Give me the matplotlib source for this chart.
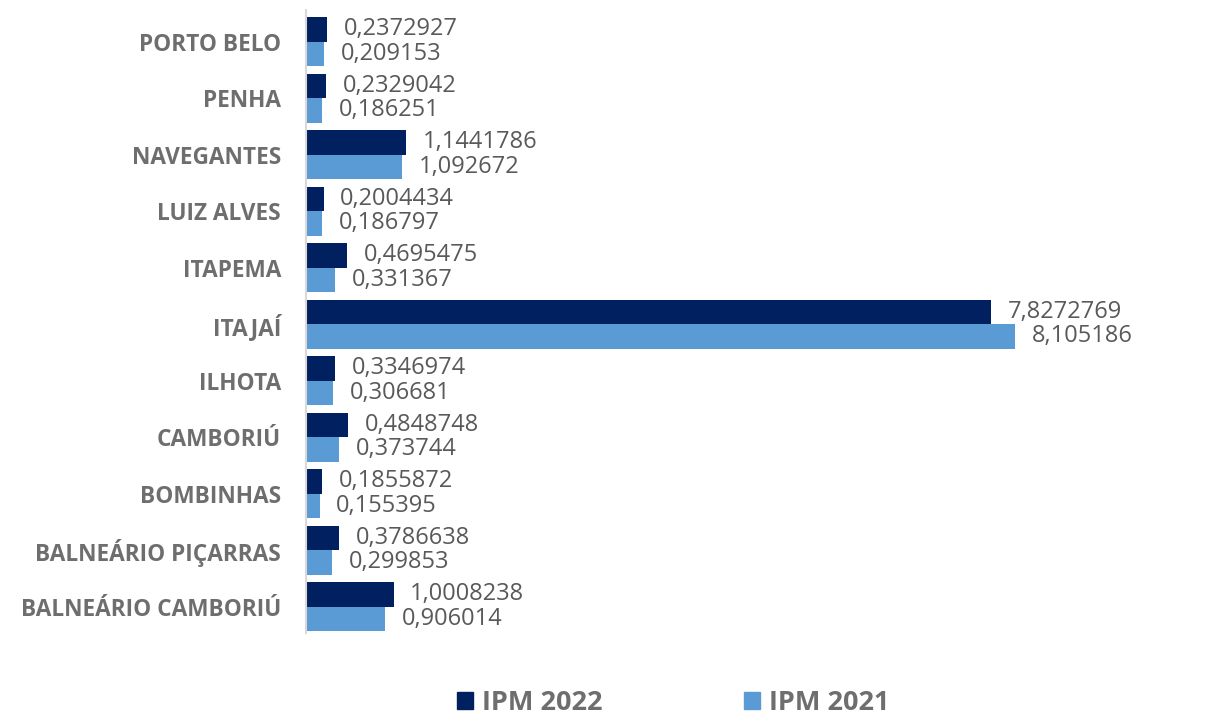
import numpy as np
import matplotlib
matplotlib.use("Agg")
import matplotlib.pyplot as plt
from matplotlib.patches import Patch

plt.rcParams['font.family'] = ['Open Sans', 'DejaVu Sans']

# IPM values per municipality (top to bottom as in the chart)
municipios = ['PORTO BELO', 'PENHA', 'NAVEGANTES', 'LUIZ ALVES', 'ITAPEMA', 'ITAJAÍ',
              'ILHOTA', 'CAMBORIÚ', 'BOMBINHAS', 'BALNEÁRIO PIÇARRAS', 'BALNEÁRIO CAMBORIÚ']
ipm_2022 = [0.2372927, 0.2329042, 1.1441786, 0.2004434, 0.4695475, 7.8272769,
            0.3346974, 0.4848748, 0.1855872, 0.3786638, 1.0008238]
ipm_2021 = [0.209153, 0.186251, 1.092672, 0.186797, 0.331367, 8.105186,
            0.306681, 0.373744, 0.155395, 0.299853, 0.906014]
series_names = ['IPM 2022', 'IPM 2021']

dark = '#002060'
light = '#5B9BD5'
val_color = '#595959'
lab_color = '#6e6e6e'

fig = plt.figure(figsize=(12.13, 7.19), dpi=100)
ax = fig.add_axes([0.2523, 0.1202, 0.737, 0.866])

y = np.arange(len(municipios))
h = 0.434
b1 = ax.barh(y - h / 2, ipm_2022, height=h, color=dark)
b2 = ax.barh(y + h / 2, ipm_2021, height=h, color=light)

def fmt(vals):
    return [repr(v).replace('.', ',') for v in vals]

ax.bar_label(b1, labels=fmt(ipm_2022), padding=12, fontsize=17, color=val_color)
ax.bar_label(b2, labels=fmt(ipm_2021), padding=12, fontsize=17, color=val_color)

ax.set_yticks(y)
ax.set_yticklabels(municipios, fontsize=16.3, fontweight='bold', color=lab_color)
ax.tick_params(axis='y', length=0, pad=18)
ax.set_xticks([])
ax.set_xlim(0, 10.217)
ax.set_ylim(10.46, -0.56)

for s in ['top', 'right', 'bottom']:
    ax.spines[s].set_visible(False)
ax.spines['left'].set_color('#d9d9d9')
ax.spines['left'].set_linewidth(1.5)

handles = [Patch(color=dark), Patch(color=light)]
leg = fig.legend(handles, series_names, loc='center', bbox_to_anchor=(0.555, 0.022),
                 ncol=2, frameon=False, handlelength=0.59, handleheight=0.59,
                 handletextpad=0.33, columnspacing=5.2,
                 prop={'size': 19.5, 'weight': 'bold'})
for t in leg.get_texts():
    t.set_color(lab_color)

fig.savefig('out.png', dpi=100, facecolor='white')
